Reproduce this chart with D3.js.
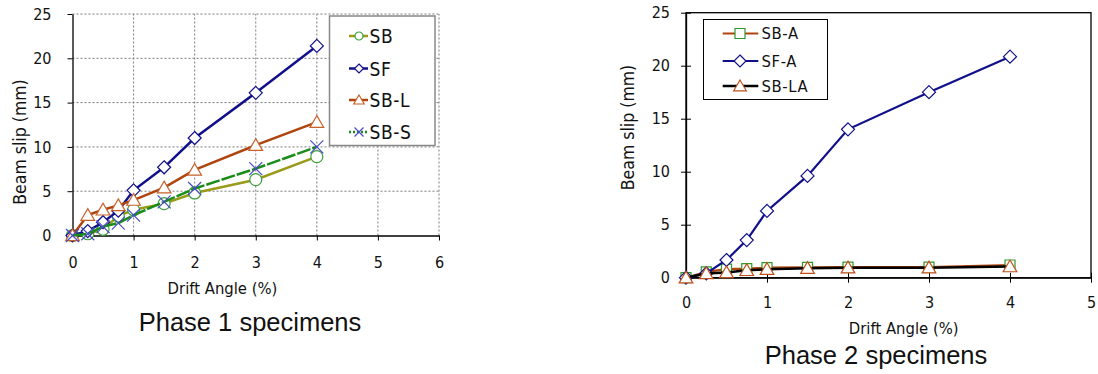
<!DOCTYPE html>
<html>
<head>
<meta charset="utf-8">
<script src="https://cdn.jsdelivr.net/npm/d3@7"></script>
<style>
  html, body { margin: 0; padding: 0; background: #fff; }
  svg { display: block; }
  .tick text { font-family: "DejaVu Sans Condensed", "DejaVu Sans", sans-serif; }
</style>
</head>
<body>
<svg id="chart" width="1098" height="374"></svg>
<script>
// Drift angles (%) at which beam slip was recorded
const drift = [0, 0.25, 0.5, 0.75, 1, 1.5, 2, 3, 4];

// Phase 1 specimens, beam slip (mm)
const slipSB  = [0, 0.2, 0.7, 2.2, 2.9, 3.6, 4.8, 6.3, 8.9];
const slipSF  = [0, 0.5, 1.5, 2.8, 5.1, 7.7, 11.0, 16.1, 21.4];
const slipSBL = [0, 2.3, 2.9, 3.4, 4.0, 5.4, 7.4, 10.2, 12.8];
const slipSBS = [0, 0.2, 1.0, 1.4, 2.3, 3.8, 5.3, 7.55, 10.0];

// Phase 2 specimens, beam slip (mm)
const slipSBA  = [0, 0.55, 0.8, 0.85, 0.95, 0.98, 1.0, 1.0, 1.2];
const slipSFA  = [0, 0.4, 1.67, 3.55, 6.3, 9.6, 14.0, 17.5, 20.85];
const slipSBLA = [0, 0.4, 0.5, 0.7, 0.8, 0.9, 0.95, 0.95, 1.05];

// Axis ticks
const yTicks  = [0, 5, 10, 15, 20, 25];
const xTicks1 = [0, 1, 2, 3, 4, 5, 6];
const xTicks2 = [0, 1, 2, 3, 4, 5];

const FONT = '"DejaVu Sans Condensed", "DejaVu Sans", sans-serif';
const TITLE_FONT = '"Liberation Sans", Arial, sans-serif';
const svg = d3.select("#chart");

// ---- marker shapes (centered at 0,0) ----
const shapes = {
  circle: r => `M${-r},0A${r},${r} 0 1,0 ${r},0A${r},${r} 0 1,0 ${-r},0Z`,
  diamond: r => `M0,${-r}L${r},0L0,${r}L${-r},0Z`,
  triangle: r => `M0,${-r}L${r * 1.05},${r * 0.8}L${-r * 1.05},${r * 0.8}Z`,
  square: r => `M${-r},${-r}H${r}V${r}H${-r}Z`,
  times: r => `M${-r},${-r}L${r},${r}M${-r},${r}L${r},${-r}`
};

function drawSeries(g, x, y, xs, ys, s) {
  const pts = xs.map((d, i) => [d, ys[i]]);
  g.append("path")
    .datum(pts)
    .attr("fill", "none")
    .attr("stroke", s.line)
    .attr("stroke-width", s.lw)
    .attr("stroke-dasharray", s.dash || null)
    .attr("d", d3.line().x(d => x(d[0])).y(d => y(d[1])));
  g.selectAll(null)
    .data(pts)
    .join("path")
    .attr("transform", d => `translate(${x(d[0])},${y(d[1])})`)
    .attr("d", shapes[s.shape](s.r))
    .attr("fill", s.shape === "times" ? "none" : "#fff")
    .attr("stroke", s.mk)
    .attr("stroke-width", s.mw || 1.2);
}

function legendItem(g, lx0, lx1, mx, tx, ly, s, fontSize) {
  g.append("line")
    .attr("x1", lx0).attr("x2", lx1).attr("y1", ly).attr("y2", ly)
    .attr("stroke", s.line).attr("stroke-width", s.lw)
    .attr("stroke-dasharray", s.legDash || null);
  g.append("path")
    .attr("transform", `translate(${mx},${ly})`)
    .attr("d", shapes[s.shape](s.legR))
    .attr("fill", s.shape === "times" ? "none" : "#fff")
    .attr("stroke", s.mk).attr("stroke-width", s.mw || 1.2);
  g.append("text")
    .attr("x", tx).attr("y", ly)
    .attr("dominant-baseline", "central")
    .attr("font-family", FONT).attr("font-size", fontSize)
    .attr("letter-spacing", 0.6)
    .attr("fill", "#111")
    .text(s.name);
}

function label(g, x, y, text, size, rotate, family) {
  g.append("text")
    .attr("transform", `translate(${x},${y})` + (rotate ? " rotate(-90)" : ""))
    .attr("text-anchor", "middle").attr("dominant-baseline", "central")
    .attr("font-family", family || FONT).attr("font-size", size).attr("fill", "#111")
    .text(text);
}

// ================= Phase 1 =================
{
  const x = d3.scaleLinear().domain([0, 6]).range([72.5, 439]);
  const y = d3.scaleLinear().domain([0, 25]).range([235.5, 14]);
  const g = svg.append("g");

  // dotted grid
  g.append("g").selectAll("line").data(yTicks.slice(1)).join("line")
    .attr("x1", x(0)).attr("x2", x(6)).attr("y1", d => y(d)).attr("y2", d => y(d))
    .attr("stroke", "#7a7a7a").attr("stroke-dasharray", "2,2");
  g.append("g").selectAll("line").data(xTicks1.slice(1)).join("line")
    .attr("x1", d => x(d)).attr("x2", d => x(d)).attr("y1", y(0)).attr("y2", y(25))
    .attr("stroke", "#7a7a7a").attr("stroke-dasharray", "2,2");

  const yAxis = g.append("g").attr("transform", `translate(${x(0)},0)`)
    .call(d3.axisLeft(y).tickValues(yTicks).tickSize(5).tickPadding(16).tickSizeOuter(0));
  const xAxis = g.append("g").attr("transform", `translate(0,${y(0)})`)
    .call(d3.axisBottom(x).tickValues(xTicks1).tickFormat(d3.format("d")).tickSize(5).tickPadding(16).tickSizeOuter(0));
  [yAxis, xAxis].forEach(a => {
    a.selectAll(".domain").attr("stroke", "#000").attr("stroke-width", 1.3);
    a.selectAll(".tick line").attr("stroke", "#000");
    a.selectAll(".tick text").attr("font-size", 16).attr("fill", "#111");
  });

  const series1 = [
    { name: "SB",   ys: slipSB,  line: "#9a9a18", lw: 2.5, shape: "circle",   r: 6,   legR: 4,   mk: "#3ca03c" },
    { name: "SF",   ys: slipSF,  line: "#10108a", lw: 2.5, shape: "diamond",  r: 6.5, legR: 4.5, mk: "#10108a" },
    { name: "SB-L", ys: slipSBL, line: "#b0440f", lw: 2.5, shape: "triangle", r: 6.5, legR: 5,   mk: "#c8602a" },
    { name: "SB-S", ys: slipSBS, line: "#1a8c1a", lw: 2.5, dash: "14,2", legDash: "2,2", shape: "times", r: 6.5, legR: 4.5, mk: "#4a4ac8" }
  ];
  series1.forEach(s => drawSeries(g, x, y, drift, s.ys, s));

  // legend
  const lg = g.append("g");
  lg.append("rect").attr("x", 329.5).attr("y", 16).attr("width", 105.5).attr("height", 129.5)
    .attr("fill", "#fff").attr("stroke", "#888").attr("stroke-width", 1.5);
  const ly1 = [36, 68.5, 100, 132];
  series1.forEach((s, i) => legendItem(lg, 349, 368, 359, 369.5, ly1[i], s, 19));

  label(g, 222.5, 288.5, "Drift Angle (%)", 16.5);
  label(g, 20, 142, "Beam slip (mm)", 17.5, true);
  label(g, 250, 322, "Phase 1 specimens", 25.5, false, TITLE_FONT);
}

// ================= Phase 2 =================
{
  const x = d3.scaleLinear().domain([0, 5]).range([686, 1091]);
  const y = d3.scaleLinear().domain([0, 25]).range([277.7, 12.7]);
  const g = svg.append("g");

  // plot frame
  g.append("rect").attr("x", x(0)).attr("y", y(25))
    .attr("width", x(5) - x(0)).attr("height", y(0) - y(25))
    .attr("fill", "none").attr("stroke", "#000").attr("stroke-width", 1.3);

  const yAxis = g.append("g").attr("transform", `translate(${x(0)},0)`)
    .call(d3.axisLeft(y).tickValues(yTicks).tickSize(5).tickPadding(11).tickSizeOuter(0));
  const xAxis = g.append("g").attr("transform", `translate(0,${y(0)})`)
    .call(d3.axisBottom(x).tickValues(xTicks2).tickFormat(d3.format("d")).tickSize(5).tickPadding(14).tickSizeOuter(0));
  // ticks cross the axis lines
  yAxis.selectAll(".tick line").attr("x1", 5).attr("x2", -5);
  xAxis.selectAll(".tick line").attr("y1", -5).attr("y2", 5);
  [yAxis, xAxis].forEach(a => {
    a.selectAll(".domain").attr("stroke", "#000").attr("stroke-width", 1.3);
    a.selectAll(".tick line").attr("stroke", "#000");
    a.selectAll(".tick text").attr("font-size", 16).attr("fill", "#111");
  });

  const series2 = [
    { name: "SB-A",  ys: slipSBA,  line: "#b0440f", lw: 2.2, shape: "square",   r: 5,   legR: 5,   mk: "#2e9a2e" },
    { name: "SF-A",  ys: slipSFA,  line: "#10108a", lw: 2.2, shape: "diamond",  r: 6.5, legR: 6,   mk: "#10108a" },
    { name: "SB-LA", ys: slipSBLA, line: "#000",    lw: 2.5, shape: "triangle", r: 6.5, legR: 6,   mk: "#c0501a" }
  ];
  series2.forEach(s => drawSeries(g, x, y, drift, s.ys, s));

  const lg = g.append("g");
  lg.append("rect").attr("x", 703.5).attr("y", 19.5).attr("width", 124).attr("height", 80)
    .attr("fill", "#fff").attr("stroke", "#000").attr("stroke-width", 1);
  const ly2 = [33.5, 61, 86];
  series2.forEach((s, i) => legendItem(lg, 722.7, 758.3, 740, 761.5, ly2[i], s, 16.5));

  label(g, 903.7, 328.3, "Drift Angle (%)", 16.5);
  label(g, 628, 127.5, "Beam slip (mm)", 17.5, true);
  label(g, 876, 355, "Phase 2 specimens", 25.5, false, TITLE_FONT);
}
</script>
</body>
</html>
